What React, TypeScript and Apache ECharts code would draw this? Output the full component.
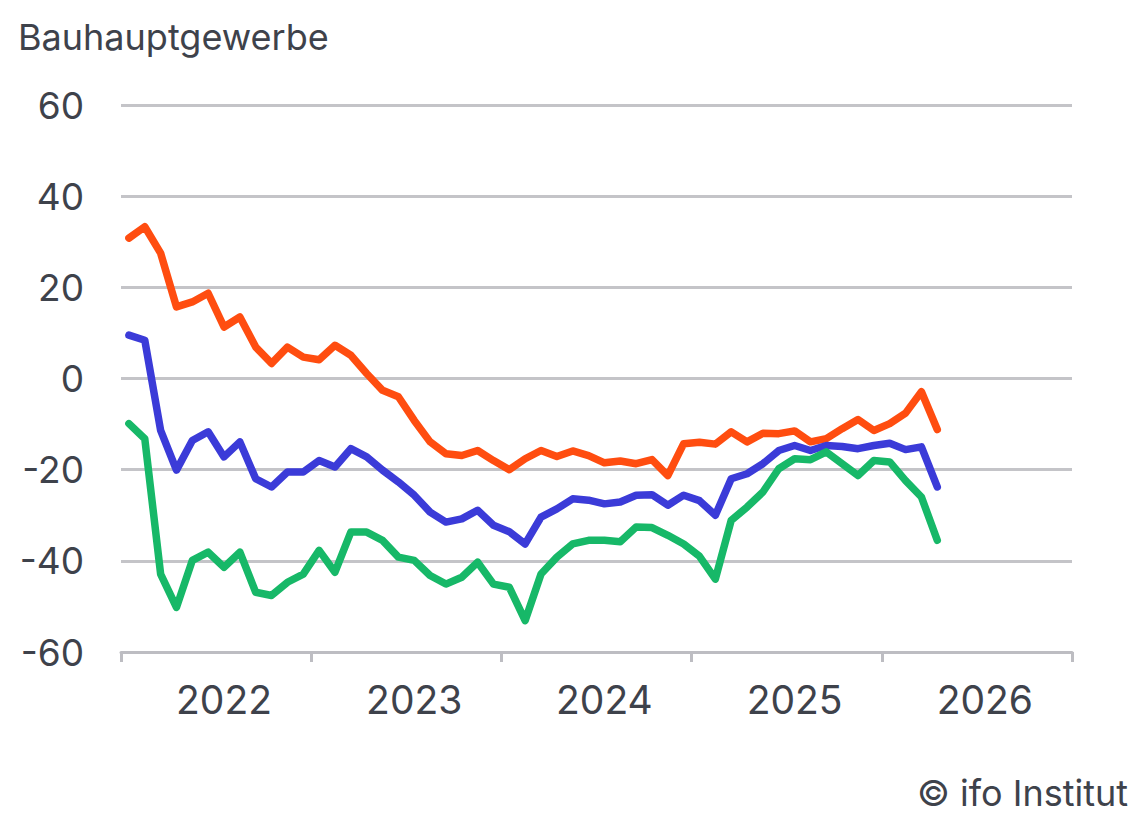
import React, { useEffect, useRef } from "react";
import * as echarts from "echarts";

// Monthly values, Jan 2022 – Apr 2026
const yearLabels = ["2022", "2023", "2024", "2025", "2026"];
const monthLabels = ["01", "02", "03", "04", "05", "06", "07", "08", "09", "10", "11", "12"];

const orangeValues = [
  30.8, 33.3, 27.5, 15.7, 16.8, 18.7, 11.3, 13.5, 6.9, 3.3, 6.9, 4.7,
  4.1, 7.3, 5.1, 1.1, -2.6, -4.0, -9.2, -13.9, -16.5, -16.9, -15.8, -18.0,
  -20.0, -17.6, -15.8, -17.1, -15.9, -16.9, -18.5, -18.1, -18.7, -17.8, -21.3, -14.3,
  -14.0, -14.4, -11.7, -13.9, -12.0, -12.1, -11.5, -13.9, -13.2, -11.0, -9.0, -11.4,
  -9.9, -7.6, -2.9, -11.2,
];

const blueValues = [
  9.5, 8.4, -11.4, -20.1, -13.6, -11.7, -17.2, -13.9, -22.0, -23.8, -20.5, -20.5,
  -18.0, -19.4, -15.4, -17.2, -20.1, -22.7, -25.6, -29.3, -31.5, -30.8, -28.9, -32.2,
  -33.6, -36.3, -30.4, -28.6, -26.4, -26.7, -27.5, -27.1, -25.6, -25.5, -27.8, -25.6,
  -26.8, -30.0, -22.0, -20.9, -18.7, -15.8, -14.7, -15.8, -14.7, -14.9, -15.4, -14.7,
  -14.2, -15.6, -15.0, -23.8,
];

const greenValues = [
  -9.9, -13.2, -42.9, -50.2, -39.9, -38.1, -41.4, -38.1, -46.9, -47.6, -44.7, -42.9,
  -37.7, -42.5, -33.7, -33.7, -35.5, -39.2, -39.9, -43.2, -45.1, -43.6, -40.3, -45.1,
  -45.8, -53.1, -42.9, -39.2, -36.3, -35.5, -35.5, -35.8, -32.6, -32.7, -34.4, -36.3,
  -39.0, -44.0, -31.1, -28.2, -24.9, -19.8, -17.6, -17.8, -16.1, -18.7, -21.3, -18.0,
  -18.3, -22.4, -26.0, -35.5,
];

const yTicks = { min: -60, max: 60, interval: 20 };

const textColor = "#3e424b";
const font = "Inter, 'Noto Sans', sans-serif";

export default function App() {
  const ref = useRef<HTMLDivElement>(null);

  useEffect(() => {
    if (!ref.current) return;
    const chart = echarts.init(ref.current, undefined, { renderer: "svg" });
    const months = yearLabels.flatMap((y) => monthLabels.map((m) => `${y}-${m}`));
    const lineSeries = (name: string, values: number[], color: string) => ({
      name,
      type: "line",
      xAxisIndex: 0,
      yAxisIndex: 0,
      data: values,
      showSymbol: false,
      symbol: "none",
      lineStyle: { color, width: 7.5, cap: "round", join: "round" },
      itemStyle: { color },
      z: 3,
    });
    chart.setOption({
      animation: false,
      backgroundColor: "#ffffff",
      title: {
        text: "Bauhauptgewerbe",
        left: 13,
        top: 14,
        textStyle: { fontFamily: font, fontSize: 36, fontWeight: "normal", color: textColor },
      },
      grid: { left: 121, right: 72, top: 105, bottom: 175, containLabel: false },
      xAxis: [
        {
          type: "category",
          data: months,
          boundaryGap: true,
          position: "bottom",
          axisLine: { show: true, onZero: false, lineStyle: { color: "#bdbdc2", width: 3 } },
          axisTick: {
            show: true,
            length: 10,
            interval: (idx: number) => idx % 12 === 0,
            lineStyle: { color: "#bdbdc2", width: 3 },
          },
          axisLabel: {
            show: true,
            margin: 28,
            fontFamily: font,
            fontSize: 39,
            color: textColor,
            interval: (idx: number) => idx % 12 === 6,
            formatter: (v: string) => v.slice(0, 4),
          },
          splitLine: { show: false },
        },
      ],
      yAxis: {
        type: "value",
        min: yTicks.min,
        max: yTicks.max,
        interval: yTicks.interval,
        axisLine: { show: false },
        axisTick: { show: false },
        axisLabel: { margin: 37, fontFamily: font, fontSize: 37, color: textColor },
        splitLine: { show: true, lineStyle: { color: "#c4c4c8", width: 3 } },
      },
      series: [
        lineSeries("Geschäftslage", orangeValues, "#ff4d10"),
        lineSeries("Geschäftsklima", blueValues, "#3b3bd8"),
        lineSeries("Erwartungen", greenValues, "#17b868"),
      ],
      graphic: [
        {
          type: "text",
          right: 16,
          top: 775,
          style: {
            text: "© ifo Institut",
            fontFamily: font,
            fontSize: 36,
            fill: textColor,
          },
        },
      ],
    });
    return () => chart.dispose();
  }, []);

  return (
    <div
      ref={ref}
      style={{ position: "fixed", left: 0, top: 0, width: 1144, height: 827, background: "#fff" }}
    />
  );
}
